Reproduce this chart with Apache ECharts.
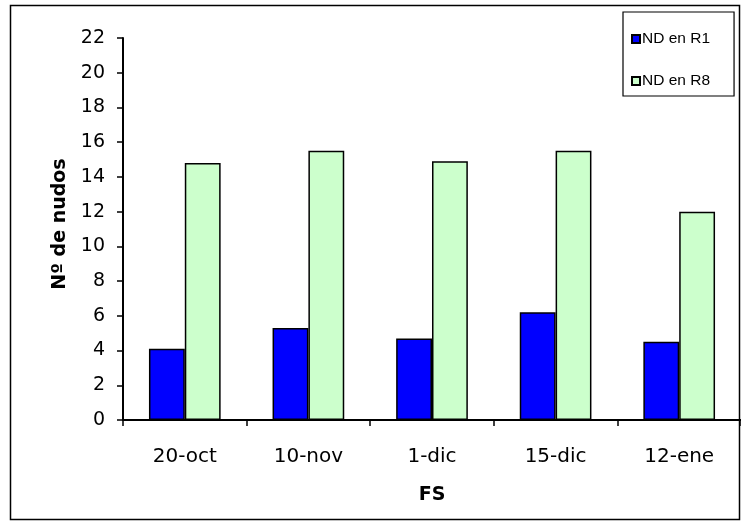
<!DOCTYPE html>
<html><head><meta charset="utf-8">
<script src="https://cdn.jsdelivr.net/npm/echarts@6/dist/echarts.min.js"></script>
<style>html,body{margin:0;padding:0;background:#fff}#c{width:741px;height:526px}</style>
</head><body><div id="c"></div>
<script>
const categories = ['20-oct', '10-nov', '1-dic', '15-dic', '12-ene'];
const seriesR1 = [4.1, 5.3, 4.7, 6.2, 4.5];
const seriesR8 = [14.8, 15.5, 14.9, 15.5, 12.0];
const seriesNames = ['ND en R1', 'ND en R8'];
const yTicks = {min: 0, max: 22, interval: 2};

const chart = echarts.init(document.getElementById('c'), null, {renderer: 'canvas'});
const font = 'DejaVu Sans, sans-serif';
const legendFont = 'Liberation Sans, Arial, sans-serif';
chart.setOption({
  animation: false,
  backgroundColor: '#fff',
  graphic: [{
    type: 'rect', shape: {x: 10.5, y: 5.5, width: 729, height: 514},
    style: {fill: 'none', stroke: '#000', lineWidth: 1.5}, z: -1
  }],
  grid: {left: 123, right: -4, top: 38, bottom: 106, containLabel: false},
  legend: {
    orient: 'vertical', left: 623, top: 12,
    padding: [19, 24, 7, 8],
    itemGap: 26,
    borderColor: '#000', borderWidth: 1.2,
    backgroundColor: '#fff',
    icon: 'rect', itemWidth: 8, itemHeight: 8,
    textStyle: {fontFamily: legendFont, fontSize: 15.5, color: '#000', padding: [0, 0, 0, -3]},
    data: seriesNames
  },
  xAxis: {
    type: 'category', data: categories,
    name: 'FS', nameLocation: 'middle', nameGap: 66,
    nameTextStyle: {fontFamily: font, fontSize: 19, fontWeight: 'bold', color: '#000'},
    axisLine: {lineStyle: {color: '#000', width: 2}},
    axisTick: {show: true, length: 6, lineStyle: {color: '#000', width: 1.5}},
    axisLabel: {fontFamily: font, fontSize: 20, color: '#000', margin: 27},
    splitLine: {show: false}
  },
  yAxis: {
    type: 'value', min: yTicks.min, max: yTicks.max, interval: yTicks.interval,
    name: 'Nº de nudos', nameLocation: 'middle', nameGap: 48, nameRotate: 90,
    nameTextStyle: {fontFamily: font, fontSize: 19, fontWeight: 'bold', color: '#000', padding: [0, 0, 0, 10]},
    axisLine: {show: true, lineStyle: {color: '#000', width: 2}},
    axisTick: {show: true, length: 6, lineStyle: {color: '#000', width: 1.5}},
    axisLabel: {fontFamily: font, fontSize: 19, color: '#000', margin: 18},
    splitLine: {show: false}
  },
  series: [
    {name: seriesNames[0], type: 'bar', data: seriesR1, barWidth: '29%', barGap: '0%', barCategoryGap: '42%',
     itemStyle: {color: '#0000ff', borderColor: '#000', borderWidth: 1.5}},
    {name: seriesNames[1], type: 'bar', data: seriesR8, barWidth: '29%', barGap: '0%', barCategoryGap: '42%',
     itemStyle: {color: '#ccffcc', borderColor: '#000', borderWidth: 1.5}}
  ]
});
</script></body></html>
